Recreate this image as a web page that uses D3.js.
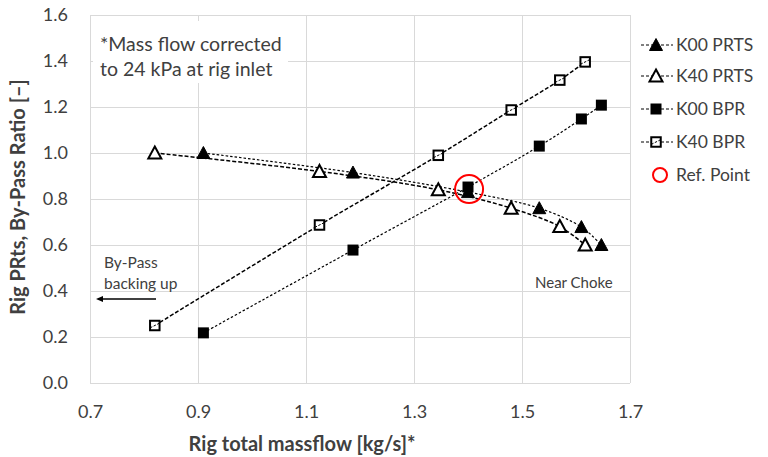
<!DOCTYPE html>
<html>
<head>
<meta charset="utf-8">
<script src="https://cdn.jsdelivr.net/npm/d3@7"></script>
<style>
  body { margin: 0; background: #fff; }
  text { font-family: Lato, "Open Sans", sans-serif; fill: #404040; }
</style>
</head>
<body>
<script>
// Chart values
const k40Flow = [0.82, 1.125, 1.345, 1.48, 1.57, 1.617];
const k40Prts = [1.0, 0.92, 0.84, 0.76, 0.68, 0.60];
const k40Bpr = [0.25, 0.687, 0.99, 1.187, 1.317, 1.396];
const k00Flow = [0.91, 1.187, 1.40, 1.532, 1.61, 1.647];
const k00Prts = [1.0, 0.915, 0.83, 0.76, 0.678, 0.60];
const k00Bpr = [0.218, 0.578, 0.852, 1.03, 1.148, 1.208];
const refPoint = { x: 1.402, y: 0.843 };
const xTicks = [0.7, 0.9, 1.1, 1.3, 1.5, 1.7];
const yTicks = [0, 0.2, 0.4, 0.6, 0.8, 1.0, 1.2, 1.4, 1.6];

const series = [
    { name: "K00 PRTS", xs: k00Flow, ys: k00Prts, shape: "tri", filled: true, dash: "2.5,2", w: 1.2 },
    { name: "K40 PRTS", xs: k40Flow, ys: k40Prts, shape: "tri", filled: false, dash: "4,2", w: 1.5 },
    { name: "K00 BPR", xs: k00Flow, ys: k00Bpr, shape: "sq", filled: true, dash: "2.5,2", w: 1.2 },
    { name: "K40 BPR", xs: k40Flow, ys: k40Bpr, shape: "sq", filled: false, dash: "4,2", w: 1.5 }
];

const width = 768, height = 457;
const margin = { top: 15, right: 138, bottom: 74, left: 90 };
const innerW = width - margin.left - margin.right;
const innerH = height - margin.top - margin.bottom;
const font = "Lato, 'Open Sans', sans-serif";

const svg = d3.select("body").append("svg")
    .attr("width", width)
    .attr("height", height);

const g = svg.append("g")
    .attr("transform", "translate(" + margin.left + "," + margin.top + ")");

const xScale = d3.scaleLinear().domain([0.7, 1.7]).range([0, innerW]);
const yScale = d3.scaleLinear().domain([0, 1.6]).range([innerH, 0]);

// Gridlines
g.append("g")
    .attr("transform", "translate(0," + innerH + ")")
    .call(d3.axisBottom(xScale).tickValues(xTicks).tickSize(-innerH).tickFormat(""))
    .call(s => s.select(".domain").remove())
    .selectAll("line").attr("stroke", "#d9d9d9");
g.append("g")
    .call(d3.axisLeft(yScale).tickValues(yTicks).tickSize(-innerW).tickFormat(""))
    .call(s => s.select(".domain").remove())
    .selectAll("line").attr("stroke", "#d9d9d9");

// Annotation box (covers gridlines)
g.append("rect")
    .attr("x", 3).attr("y", 6).attr("width", 195).attr("height", 62)
    .attr("fill", "#fff");
const note = g.append("text").attr("font-size", 19.5).attr("fill", "#000");
note.append("tspan").attr("x", 10).attr("y", 36).text("*Mass flow corrected");
note.append("tspan").attr("x", 10).attr("y", 61).text("to 24 kPa at rig inlet");

// Tick labels
const xAxis = g.append("g")
    .attr("transform", "translate(0," + innerH + ")")
    .call(d3.axisBottom(xScale).tickValues(xTicks).tickSize(0).tickPadding(22).tickFormat(d3.format(".1f")));
xAxis.select(".domain").remove();
xAxis.selectAll("text").attr("font-size", 18).attr("fill", "#404040").style("font-family", font);

const yAxis = g.append("g")
    .call(d3.axisLeft(yScale).tickValues(yTicks).tickSize(0).tickPadding(22).tickFormat(d3.format(".1f")));
yAxis.select(".domain").remove();
yAxis.selectAll("text").attr("font-size", 18).attr("fill", "#404040").style("font-family", font);

// Axis titles
svg.append("text")
    .attr("x", 302).attr("y", 451)
    .attr("text-anchor", "middle")
    .attr("font-size", 20).attr("font-weight", "bold")
    .text("Rig total massflow [kg/s]*");
svg.append("text")
    .attr("transform", "translate(25,197) rotate(-90)")
    .attr("text-anchor", "middle")
    .attr("font-size", 20).attr("font-weight", "bold")
    .text("Rig PRts, By-Pass Ratio [\u2013]");

// Lines
const line = d3.line()
    .x(d => xScale(d[0]))
    .y(d => yScale(d[1]))
    .curve(d3.curveCatmullRom);

series.forEach(s => {
    const pts = s.xs.map((x, i) => [x, s.ys[i]]);
    g.append("path")
        .datum(pts)
        .attr("d", line)
        .attr("fill", "none")
        .attr("stroke", "#000")
        .attr("stroke-width", s.w)
        .attr("stroke-dasharray", s.dash);
});

function drawMarker(sel, s, cx, cy) {
    if (s.shape === "tri") {
        const h = 11, half = 6.5;
        sel.append("path")
            .attr("d", "M" + cx + "," + (cy - h / 2 - 1) + "L" + (cx + half) + "," + (cy + h / 2) + "L" + (cx - half) + "," + (cy + h / 2) + "Z")
            .attr("fill", s.filled ? "#000" : "#fff")
            .attr("stroke", "#000")
            .attr("stroke-width", s.filled ? 1 : 2);
    } else {
        const a = s.filled ? 11 : 9.5;
        sel.append("rect")
            .attr("x", cx - a / 2).attr("y", cy - a / 2)
            .attr("width", a).attr("height", a)
            .attr("fill", s.filled ? "#000" : "#fff")
            .attr("stroke", "#000")
            .attr("stroke-width", s.filled ? 0 : 2);
        if (!s.filled) {
            // the dashed series line shows through the open square
            sel.append("line")
                .attr("x1", cx - a / 2).attr("y1", cy + a / 4)
                .attr("x2", cx + a / 2).attr("y2", cy - a / 4)
                .attr("stroke", "#000").attr("stroke-width", 1)
                .attr("stroke-dasharray", "2.5,1.5");
        }
    }
}

// Markers
series.forEach(s => {
    const mg = g.append("g");
    s.xs.forEach((x, i) => drawMarker(mg, s, xScale(x), yScale(s.ys[i])));
});

// Reference point
g.append("circle")
    .attr("cx", xScale(refPoint.x)).attr("cy", yScale(refPoint.y))
    .attr("r", 14)
    .attr("fill", "none")
    .attr("stroke", "#ff0000")
    .attr("stroke-width", 2);

// Annotations
const bp = g.append("text").attr("font-size", 15.5).attr("fill", "#000");
bp.append("tspan").attr("x", 14).attr("y", 253).text("By-Pass");
bp.append("tspan").attr("x", 14).attr("y", 274).text("backing up");
g.append("line")
    .attr("x1", 66).attr("y1", 284).attr("x2", 12).attr("y2", 284)
    .attr("stroke", "#000").attr("stroke-width", 1.5);
g.append("path")
    .attr("d", "M6,284 L13,281 L13,287 Z")
    .attr("fill", "#000");
g.append("text")
    .attr("x", 445).attr("y", 273)
    .attr("font-size", 15).attr("fill", "#000")
    .text("Near Choke");

// Legend
const legend = svg.append("g").attr("transform", "translate(641,0)");
const legY = [45, 76, 109, 142];
series.forEach((s, i) => {
    const row = legend.append("g");
    row.append("line")
        .attr("x1", 0).attr("x2", 32)
        .attr("y1", legY[i]).attr("y2", legY[i])
        .attr("stroke", "#000").attr("stroke-width", 1)
        .attr("stroke-dasharray", "3,2");
    drawMarker(row, s, 15, legY[i]);
    row.append("text")
        .attr("x", 35).attr("y", legY[i])
        .attr("dy", "0.35em")
        .attr("font-size", 17.5).attr("fill", "#000")
        .text(s.name);
});
legend.append("circle")
    .attr("cx", 19).attr("cy", 175).attr("r", 7)
    .attr("fill", "none").attr("stroke", "#ff0000").attr("stroke-width", 2);
legend.append("text")
    .attr("x", 35).attr("y", 175).attr("dy", "0.35em")
    .attr("font-size", 17.5).attr("fill", "#000")
    .text("Ref. Point");
</script>
</body>
</html>
